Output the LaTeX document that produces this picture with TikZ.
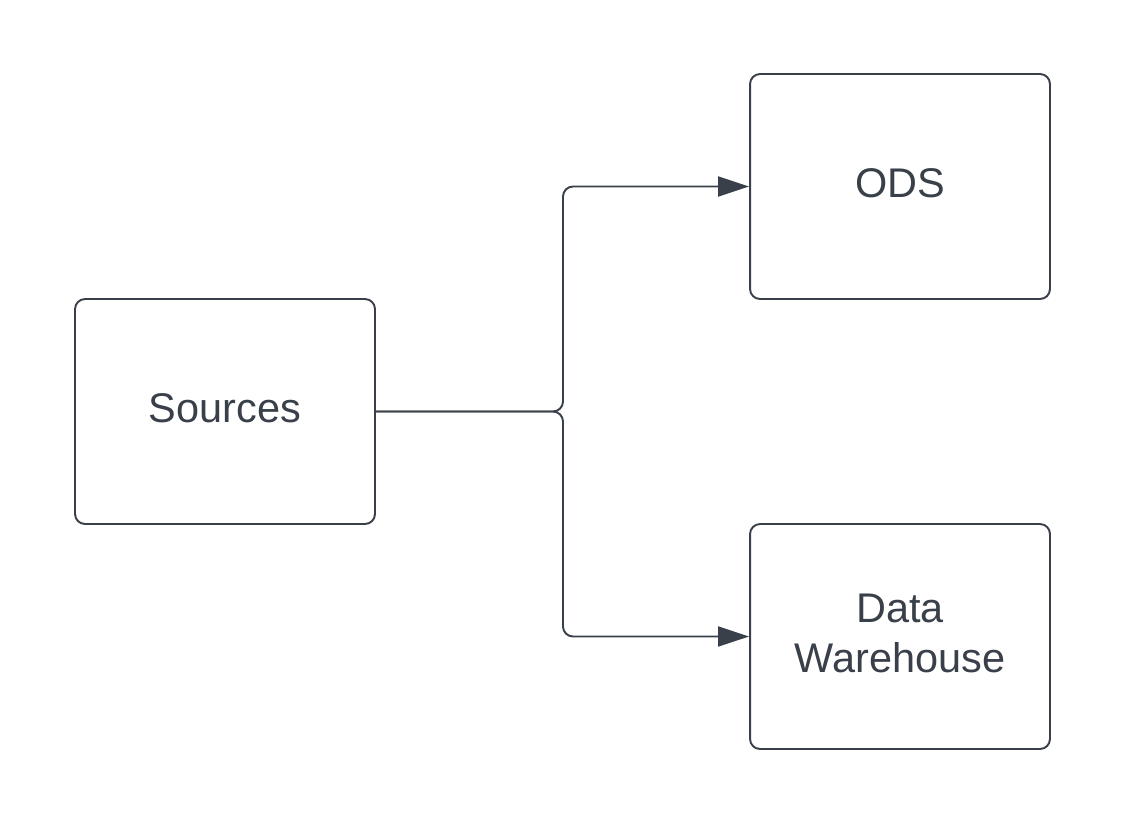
\documentclass[tikz,border=0pt]{standalone}
\usepackage{fontspec}
\setmainfont{Liberation Sans}
\usetikzlibrary{arrows.meta,positioning}
\definecolor{Tinta}{HTML}{394049}

\begin{document}
\begin{tikzpicture}[
  x=0.02cm,y=-0.02cm,
  every node/.style={font=\fontsize{23.6pt}{28.5pt}\selectfont,text=Tinta},
  box/.style={draw=Tinta,line width=1.1pt,rounded corners=0.2cm,
    minimum width=6cm,minimum height=4.5cm,align=center,text depth=0.14cm},
  flow/.style={-{Triangle[length=0.62cm,width=0.4cm]},line width=1.1pt,
    draw=Tinta,rounded corners=0.2cm}
]
  \useasboundingbox (0,0) rectangle (1125,825);

  % Cajas
  \node[box] (src) at (225,411.5) {Sources};
  \node[box] (ods) at (900,186.5) {ODS};
  \node[box] (dw) at (900,636.5) {Data\\Warehouse};

  % Conectores
  \coordinate (split) at (563,411.5);
  \draw[flow] (src.east) -- (split) |- (ods.west);
  \draw[flow] (src.east) -- (split) |- (dw.west);
\end{tikzpicture}
\end{document}
